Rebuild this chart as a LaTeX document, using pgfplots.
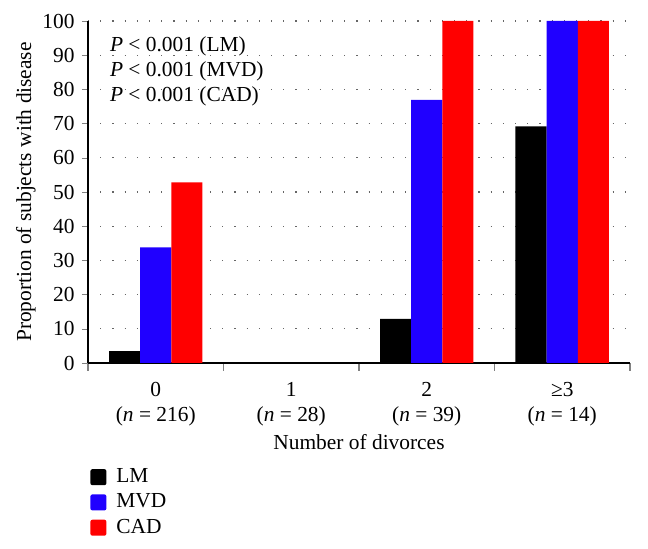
\documentclass[border=0pt]{standalone}
\usepackage{fontspec}
\setmainfont{Liberation Serif}
\usepackage{pgfplots}
\pgfplotsset{compat=1.18}
\definecolor{myblue}{RGB}{32,0,255}
\definecolor{myred}{RGB}{255,0,0}
\begin{document}
\fontsize{10.7pt}{12.5pt}\selectfont
\begin{tikzpicture}
\begin{axis}[
  scale only axis, width=271pt, height=171pt,
  ybar=0pt, bar width=0.23,
  xmin=-0.5, xmax=3.5, ymin=0, ymax=100,
  axis lines*=left,
  axis line style={line width=0.8pt},
  xtick={0,1,2,3},
  xticklabels={{0\\(\textit{n} = 216)},{1\\(\textit{n} = 28)},{2\\(\textit{n} = 39)},{≥3\\(\textit{n} = 14)}},
  xticklabel style={align=center, yshift=-3pt},
  major x tick style={draw=none},
  minor xtick={-0.5,0.5,1.5,2.5,3.5},
  minor x tick style={line width=0.8pt},
  minor tick length=4pt,
  major tick length=3pt,
  ytick={0,10,...,100},
  tick align=outside,
  ymajorgrids,
  grid style={gray!80!black, line width=0.6pt, dash pattern=on 0.6pt off 5.5pt},
  /pgf/number format/assume math mode=true,
  xlabel={Number of divorces},
  xlabel style={yshift=3.5pt},
  ylabel={Proportion of subjects with disease},
  ylabel shift=-4pt,
  y filter/.expression={y==0 ? nan : y},
  unbounded coords=discard,
  legend style={draw=none, at={(0.0,-0.29)}, anchor=north west, row sep=0pt, cells={anchor=west}, inner sep=1pt},
  legend image code/.code={\fill[#1, rounded corners=1pt] (0pt,-4pt) rectangle (8pt,4pt);},
]
\addplot[fill=black, draw=none] coordinates {(0,3.5) (1,0) (2,12.9) (3,69.2)};
\addplot[fill=myblue, draw=none] coordinates {(0,33.8) (1,0) (2,76.9) (3,100)};
\addplot[fill=myred, draw=none] coordinates {(0,52.8) (1,0) (2,100) (3,100)};
\legend{\hspace{3pt}LM, \hspace{3pt}MVD, \hspace{3pt}CAD}
\node[anchor=north west, align=left, inner sep=0pt] at (rel axis cs:0.04,0.955)
  {\textit{P} < 0.001 (LM)\\ \textit{P} < 0.001 (MVD)\\ \textit{P} < 0.001 (CAD)};
\end{axis}
\path (current axis.south west) ++(-44pt,-93pt);
\path (current axis.north east) ++(9pt,10.5pt);
\end{tikzpicture}
\end{document}
